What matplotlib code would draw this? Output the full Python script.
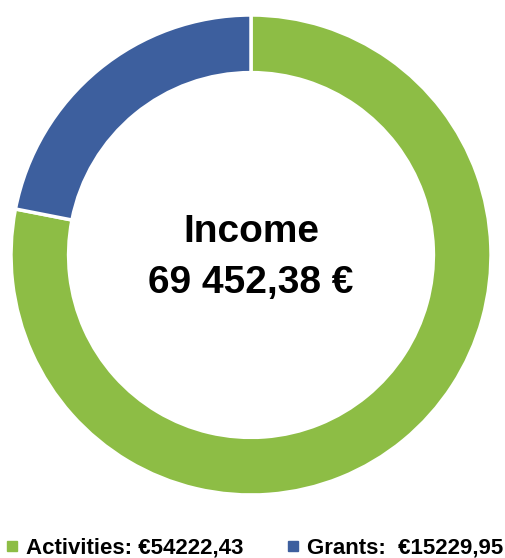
import numpy as np
import matplotlib.pyplot as plt
from matplotlib.lines import Line2D

plt.rcParams['font.family'] = ['Liberation Sans', 'DejaVu Sans']

''' Data '''
labels = ['Activities', 'Grants']
values = [54222.43, 15229.95]
label_values = ['€54222,43', ' €15229,95']
colors = ['#8DBD45', '#3D5F9E']
title = 'Income'
total_text = '69 452,38 €'

fig = plt.figure(figsize=(5.05, 5.58), dpi=100)
ax = fig.add_axes([11 / 505, 63 / 558, 480 / 505, 480 / 558])
ax.pie(values,
       colors=colors,
       startangle=90,
       counterclock=False,
       radius=1.0,
       wedgeprops=dict(width=0.24, edgecolor='white', linewidth=2.5))
ax.set_xlim(-1, 1)
ax.set_ylim(-1, 1)
ax.set_aspect('equal')

ax.text(0, 0.095, title, ha='center', va='center',
        fontsize=28, fontweight='bold', color='black')
ax.text(0, -0.115, total_text, ha='center', va='center',
        fontsize=28, fontweight='bold', color='black')

handles = [Line2D([0], [0], marker='s', linestyle='none', markersize=7,
                  markerfacecolor=c, markeredgecolor=c) for c in colors]
legend_labels = [f'{l}: {v}' for l, v in zip(labels, label_values)]
fig.legend(handles, legend_labels, loc='center left', ncol=2,
           bbox_to_anchor=(3 / 505, 1 - 548 / 558), frameon=False,
           prop={'size': 16, 'weight': 'bold'},
           borderaxespad=0, borderpad=0,
           handletextpad=0.25, columnspacing=1.8, handlelength=0.8)

fig.savefig('out.png', dpi=100)
